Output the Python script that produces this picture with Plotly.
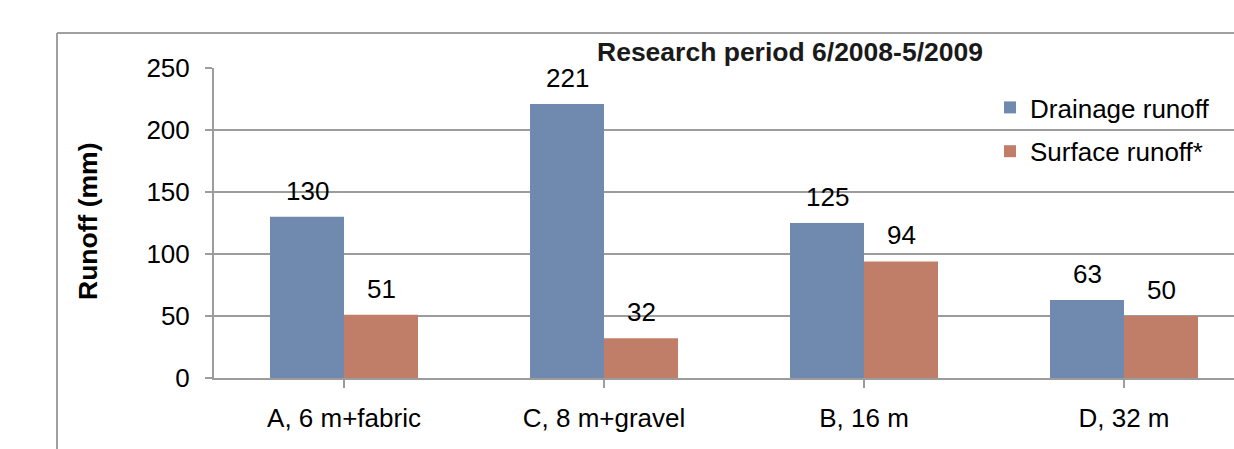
import plotly.graph_objects as go

categories = ["A, 6 m+fabric", "C, 8 m+gravel", "B, 16 m", "D, 32 m"]
drainage = [130, 221, 125, 63]
surface = [51, 32, 94, 50]
series_names = ["Drainage runoff", "Surface runoff*"]
y_ticks = [0, 50, 100, 150, 200, 250]
title_text = "Research period 6/2008-5/2009"
y_title = "Runoff (mm)"

BLUE = "#6F89AF"
ORANGE = "#C07E69"
GRID = "#9C9C9C"
FONT = "Liberation Sans, Arial, sans-serif"
FS = 26

# body margin is removed below, so figure coords = screen coords
W, H = 1234, 449
L, R, T, B = 214, 0, 68, 71
plot_w = W - L - R
plot_h = H - T - B
cat_px = 260.0
x_max = -0.5 + plot_w / cat_px
bargap = 1 - 148 / 260.0
half = (1 - bargap) / 4.0


def px(xf):
    return (xf - L) / plot_w


def py(yf):
    return (H - B - yf) / plot_h


xs = list(range(len(categories)))

fig = go.Figure()
fig.add_trace(go.Bar(x=xs, y=drainage, name=series_names[0], marker_color=BLUE,
                     marker_line_width=0, legendgroup="a"))
fig.add_trace(go.Bar(x=xs, y=surface, name=series_names[1], marker_color=ORANGE,
                     marker_line_width=0, legendgroup="b"))

annotations = []
for i, v in enumerate(drainage):
    annotations.append(dict(x=i - half, y=v, xref="x", yref="y", text=str(v),
                            showarrow=False, yanchor="middle", yshift=26,
                            font=dict(size=FS, color="black", family=FONT)))
for i, v in enumerate(surface):
    annotations.append(dict(x=i + half, y=v, xref="x", yref="y", text=str(v),
                            showarrow=False, yanchor="middle", yshift=26,
                            font=dict(size=FS, color="black", family=FONT)))
# title
annotations.append(dict(x=px(790), y=py(52), xref="paper", yref="paper",
                        text="<b>" + title_text + "</b>", showarrow=False,
                        xanchor="center", yanchor="middle",
                        font=dict(size=26.5, color="#1a1a1a", family=FONT)))
# y axis title
annotations.append(dict(x=px(88), y=py(221), xref="paper", yref="paper",
                        text="<b>" + y_title + "</b>", showarrow=False, textangle=-90,
                        xanchor="center", yanchor="middle",
                        font=dict(size=26.5, color="black", family=FONT)))

shapes = [
    dict(type="line", xref="paper", yref="paper",
         x0=px(57), x1=px(57), y0=py(33), y1=py(480),
         line=dict(color="#A0A0A0", width=2)),
    dict(type="line", xref="paper", yref="paper",
         x0=px(57), x1=px(1280), y0=py(33), y1=py(33),
         line=dict(color="#A0A0A0", width=2)),
]

fig.update_layout(
    width=W, height=H,
    margin=dict(l=L, r=R, t=T, b=B, pad=0),
    paper_bgcolor="white", plot_bgcolor="white",
    barmode="group", bargap=bargap, bargroupgap=0,
    font=dict(family=FONT, size=FS, color="black"),
    showlegend=True,
    legend=dict(x=px(990), y=py(84), xanchor="left", yanchor="top",
                bgcolor="rgba(0,0,0,0)", font=dict(size=FS, family=FONT),
                traceorder="grouped", tracegroupgap=7, itemclick=False),
    annotations=annotations,
    shapes=shapes,
)
fig.update_xaxes(
    range=[-0.5, x_max], tickmode="array", tickvals=xs, ticktext=categories,
    showgrid=False, showline=True, linecolor=GRID, linewidth=2,
    ticks="outside", ticklen=8, tickcolor=GRID, tickwidth=2,
    tickson="boundaries", ticklabelstandoff=8,
    tickfont=dict(size=FS, family=FONT), zeroline=False,
)
fig.update_yaxes(
    range=[0, 250], tickvals=y_ticks, showgrid=True, gridcolor=GRID, gridwidth=2,
    showline=True, linecolor=GRID, linewidth=2,
    ticks="outside", ticklen=7, tickcolor=GRID, tickwidth=2,
    ticklabelstandoff=10, tickfont=dict(size=FS, family=FONT), zeroline=False,
)

fig.write_html(
    "out.html",
    config={"displayModeBar": False},
    post_script="document.body.style.margin='0';document.body.style.overflow='hidden';",
)
